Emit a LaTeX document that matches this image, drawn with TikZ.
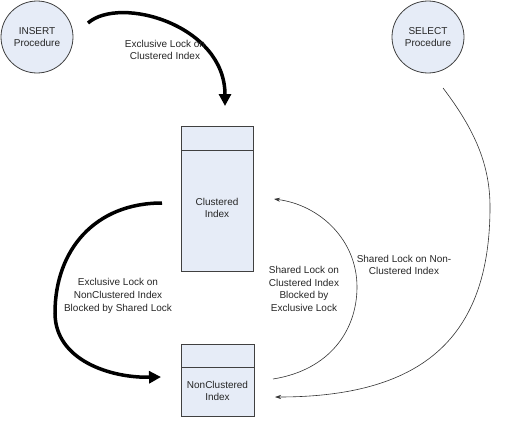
\documentclass[tikz,border=0pt]{standalone}
\usepackage{fontspec}
\setmainfont{Liberation Sans}
\usetikzlibrary{arrows.meta}
\definecolor{boxfill}{HTML}{E6ECF7}
\definecolor{edge}{HTML}{404040}
\begin{document}
\begin{tikzpicture}[x=1pt,y=-1pt,
  lbl/.style={font=\fontsize{10}{12.8}\selectfont, align=center, text=black!85, inner sep=0pt},
  proc/.style={circle, draw=edge, fill=boxfill, line width=0.8pt, minimum size=72pt, inner sep=0pt, font=\fontsize{10}{12.8}\selectfont, text=black!85, align=center},
  idx/.style={draw=edge, fill=boxfill, line width=0.8pt},
  thick arrow/.style={line width=3.5pt, -{Triangle[width=12pt,length=12pt]}},
  thin arrow/.style={line width=0.6pt, black!80, -{Stealth[width=4pt,length=6pt]}}]
\useasboundingbox (0,0) rectangle (512,431);
% procedures
\node[proc] (ins) at (37,37) {INSERT\\Procedure};
\node[proc] (sel) at (428,37) {SELECT\\Procedure};
% clustered index
\draw[idx] (181,126) rectangle (253,271);
\draw[edge, line width=0.8pt] (181,150) -- (253,150);
\node[lbl] (ci) at (217,208) {Clustered\\Index};
% nonclustered index
\draw[idx] (181,344) rectangle (254,416);
\draw[edge, line width=0.8pt] (181,367) -- (254,367);
\node[lbl] (nci) at (217.5,391) {NonClustered\\Index};
% anchors
\coordinate (a1s) at (88,23);
\coordinate (a1e) at (225,106);
\coordinate (a2s) at (162,203);
\coordinate (a2m) at (55,313);
\coordinate (a2e) at (161,377);
\coordinate (a3s) at (273,379);
\coordinate (a3m) at (357,287);
\coordinate (a3e) at (274,199);
\coordinate (a4s) at (443,88);
\coordinate (a4m) at (490,207);
\coordinate (a4e) at (275,397);
% connectors
\draw[thick arrow] (a1s) .. controls (120,-5) and (225,25) .. (a1e);
\draw[thick arrow] (a2s) .. controls (95,203) and (55,250) .. (a2m) .. controls (55,360) and (110,378) .. (a2e);
\draw[thin arrow] (a3s) .. controls (330,370) and (357,330) .. (a3m) .. controls (357,240) and (320,205) .. (a3e);
\draw[thin arrow] (a4s) .. controls (475,130) and (490,165) .. (a4m) .. controls (490,340) and (420,397) .. (a4e);
% labels
\node[lbl] (l1) at (165,50) {Exclusive Lock on\\Clustered Index};
\node[lbl] (l2) at (118,296) {Exclusive Lock on\\NonClustered Index\\Blocked by Shared Lock};
\node[lbl] (l3) at (304,289) {Shared Lock on\\Clustered Index\\Blocked by\\Exclusive Lock};
\node[lbl] (l4) at (404,265) {Shared Lock on Non-\\Clustered Index};
\end{tikzpicture}
\end{document}
